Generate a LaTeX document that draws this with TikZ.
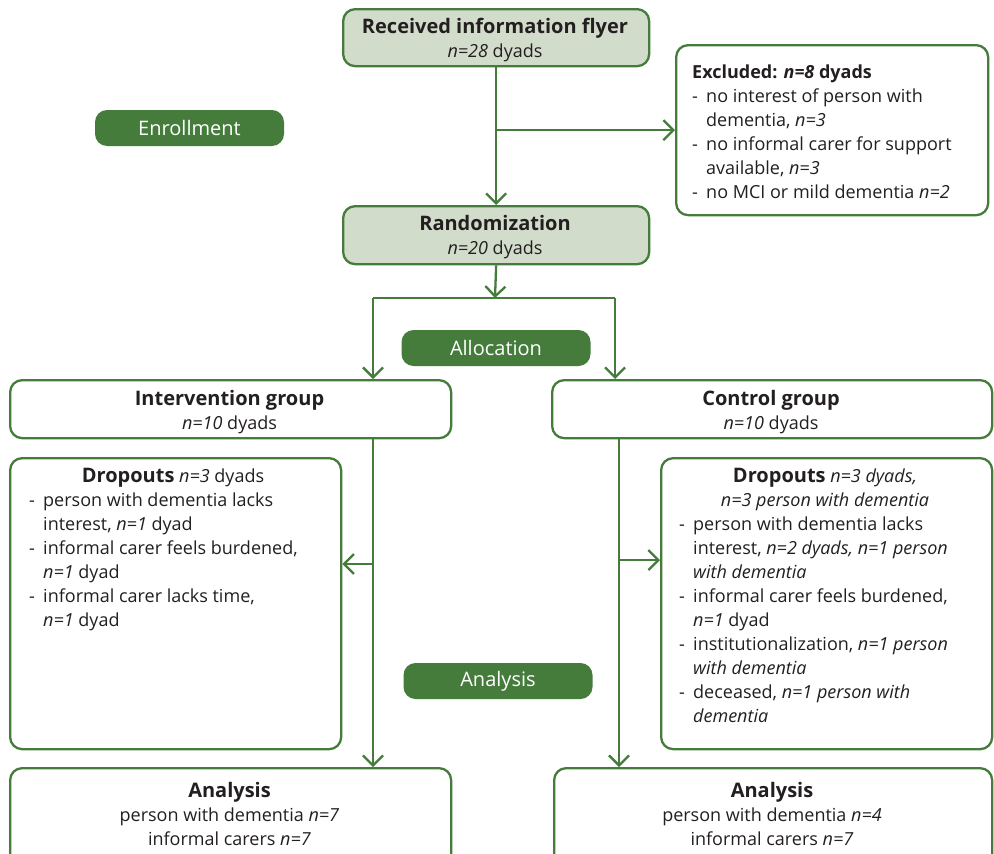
\documentclass[tikz,border=0pt]{standalone}
\usepackage{fontspec}
\setmainfont{Open Sans}
\usetikzlibrary{arrows.meta,calc}
\definecolor{frame}{HTML}{457C3C}
\definecolor{headfill}{HTML}{D2DCCA}
\definecolor{ink}{HTML}{231F20}
\newcommand\dsh{\makebox[14pt][l]{-}}
\newcommand\cnt{\hspace*{14pt}}
\newcommand\fst{\rule{0pt}{13pt}}
\newcommand\ttlfont{\bfseries\fontsize{20}{24}\selectfont}
\begin{document}
\begin{tikzpicture}[x=1pt,y=-1pt,
  box/.style={draw=frame, line width=2.3pt, rounded corners=12pt, fill=white,
    inner sep=0pt, anchor=north west},
  headbox/.style={box, fill=headfill},
  pill/.style={fill=frame, rounded corners=12pt, text=white, inner sep=0pt,
    minimum width=189pt, minimum height=36pt, font=\fontsize{20}{22}\selectfont},
  txt/.style={inner sep=0pt, text=ink, font=\fontsize{18}{24}\selectfont},
  ctxt/.style={txt, align=center, anchor=north},
  ltxt/.style={txt, align=left, anchor=north west},
  conn/.style={draw=frame, line width=2.3pt, -{Straight Barb[length=10pt,width=20pt]}},
  plain/.style={draw=frame, line width=2.3pt}
]
\clip (0,0) rectangle (994,854);
\fill[white] (0,0) rectangle (994,854);

% boxes
\node[headbox, minimum width=306pt, minimum height=57pt] (flyer) at (342,8) {};
\node[headbox, minimum width=306pt, minimum height=58pt] (rand) at (342,205) {};
\node[box, minimum width=312pt, minimum height=170pt] (excl) at (675,44) {};
\node[box, minimum width=441pt, minimum height=58pt] (ig) at (9,379) {};
\node[box, minimum width=440pt, minimum height=58pt] (cg) at (551,379) {};
\node[box, minimum width=331pt, minimum height=291pt] (ld) at (9,457) {};
\node[box, minimum width=331pt, minimum height=291pt] (rd) at (660,457) {};
\node[box, minimum width=441pt, minimum height=110pt] (la) at (9,767) {};
\node[box, minimum width=438pt, minimum height=110pt] (ra) at (553,767) {};

% phase labels
\node[pill] (enr) at (189.5,128) {Enrollment};
\node[pill] (alloc) at (496,348) {Allocation};
\node[pill] (anl) at (498,681) {Analysis};

% texts
\node[ctxt] (flyert) at (495,18) {{\fst\ttlfont Received information flyer}\\\textit{n=28} dyads};
\node[ctxt] (randt) at (495,215) {{\fst\ttlfont Randomization}\\\textit{n=20} dyads};
\node[ltxt] (exclt) at (692,65) {\fst\textbf{Excluded: \textit{n=8} dyads}\\
  \dsh no interest of person with\\
  \cnt dementia, \textit{n=3}\\
  \dsh no informal carer for support\\
  \cnt available, \textit{n=3}\\
  \dsh no MCI or mild dementia \textit{n=2}};
\node[ctxt] (igt) at (229.5,390) {{\fst\ttlfont Intervention group}\\\textit{n=10} dyads};
\node[ctxt] (cgt) at (771,390) {{\fst\ttlfont Control group}\\\textit{n=10} dyads};
\node[ctxt] (ldt) at (173,468) {\fst{\ttlfont Dropouts} \textit{n=3} dyads};
\node[ltxt] (ldl) at (29,493) {\fst\dsh person with dementia lacks\\
  \cnt interest, \textit{n=1} dyad\\
  \dsh informal carer feels burdened,\\
  \cnt\textit{n=1} dyad\\
  \dsh informal carer lacks time,\\
  \cnt\textit{n=1} dyad};
\node[ctxt] (rdt) at (825,468) {\fst{\ttlfont Dropouts} \textit{n=3 dyads,}\\\textit{n=3 person with dementia}};
\node[ltxt] (rdl) at (679,517) {\fst\dsh person with dementia lacks\\
  \cnt interest, \textit{n=2 dyads, n=1 person}\\
  \cnt\textit{with dementia}\\
  \dsh informal carer feels burdened,\\
  \cnt\textit{n=1} dyad\\
  \dsh institutionalization, \textit{n=1 person}\\
  \cnt\textit{with dementia}\\
  \dsh deceased, \textit{n=1 person with}\\
  \cnt\textit{dementia}};
\node[ctxt] (lat) at (229.5,782) {{\fst\ttlfont Analysis}\\person with dementia \textit{n=7}\\informal carers \textit{n=7}};
\node[ctxt] (rat) at (772,782) {{\fst\ttlfont Analysis}\\person with dementia \textit{n=4}\\informal carers \textit{n=7}};

% connectors
\coordinate (ex) at (flyer.south |- excl.west);
\draw[conn] (flyer.south) -- (rand.north);
\draw[conn] (ex) -- (excl.west);
\coordinate (split) at (495,298);
\coordinate (splitl) at (373,298);
\coordinate (splitr) at (615,298);
\draw[conn] (rand.south) -- (split);
\draw[plain] (splitl) -- (splitr);
\draw[conn] (splitl) -- (splitl |- ig.north);
\draw[conn] (splitr) -- (splitr |- cg.north);
\coordinate (ilane) at (373,437);
\coordinate (clane) at (619,437);
\coordinate (ib) at (373,564);
\coordinate (cb) at (619,560);
\draw[conn] (ilane) -- (ilane |- la.north);
\draw[conn] (ib) -- (ib -| ld.east);
\draw[conn] (clane) -- (clane |- ra.north);
\draw[conn] (cb) -- (cb -| rd.west);
\end{tikzpicture}
\end{document}
